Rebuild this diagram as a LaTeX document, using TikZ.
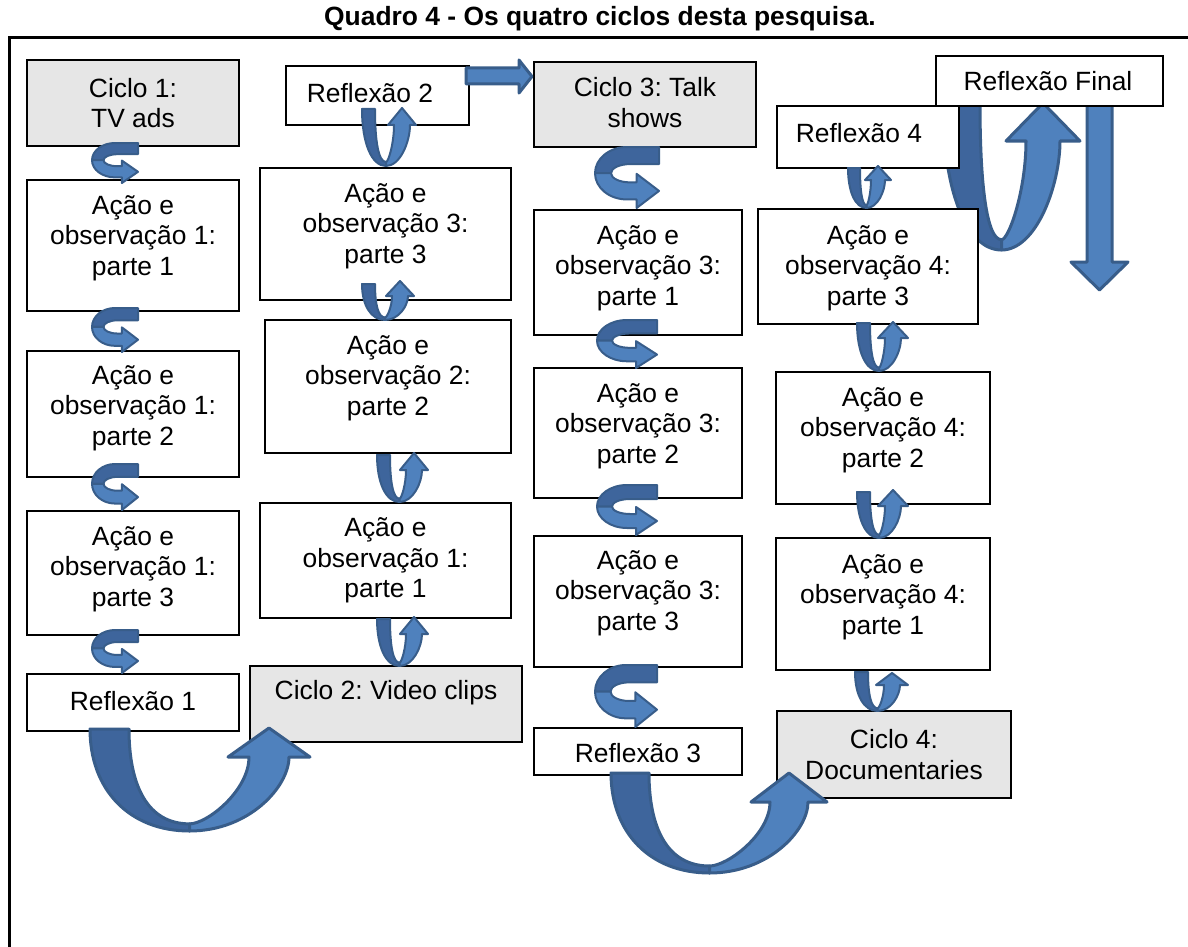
\documentclass[tikz,border=0pt]{standalone}
\usepackage{fontspec}
\setmainfont{Liberation Sans}
\frenchspacing
\definecolor{arlight}{RGB}{79,129,189}
\definecolor{ardark}{RGB}{62,101,156}
\definecolor{arborder}{RGB}{56,93,138}
\definecolor{boxgray}{RGB}{230,230,230}
\def\arlw{1pt}
\tikzset{
 bx/.style={draw=black, line width=1pt, fill=white, inner sep=0pt, anchor=north west},
 gbx/.style={bx, fill=boxgray},
 txt/.style={align=center, inner sep=0pt, font=\fontsize{13.2}{15.25}\selectfont},
 ttl/.style={inner sep=0pt, font=\bfseries\fontsize{13.2}{15.25}\selectfont},
 arl/.style={fill=arlight, draw=arborder, line width=\arlw, line join=round},
 ard/.style={fill=ardark, draw=arborder, line width=\arlw, line join=round},
}
\newcommand{\UArrow}[9]{%
  \pgfmathsetmacro{\uM}{(#1+#5+#9)/2}%
  \pgfmathsetmacro{\uHB}{#6+#7}%
  \pgfmathsetmacro{\uBI}{#4-0.07*(#4-#2)}%
  \pgfmathsetmacro{\uRA}{#5+#9}%
  \pgfmathsetmacro{\uLA}{#5-#9}%
  \draw[ard] (#1,#2) -- ({#1+#3},#2) .. controls ({#1+#3},{#2+0.55*(#4-#2)}) and ({#1+#3+0.3*(\uM-#1-#3)},\uBI) .. (\uM,\uBI) -- (\uM,#4) .. controls ({#1+0.4*(\uM-#1)},#4) and (#1,{#2+0.6*(#4-#2)}) .. (#1,#2) -- cycle;
  \draw[arl] (\uM,#4) .. controls ({\uM+0.6*(\uRA-\uM)},#4) and (\uRA,{\uHB+0.4*(#4-\uHB)}) .. (\uRA,\uHB) -- ({#5+#8},\uHB) -- (#5,#6) -- ({#5-#8},\uHB) -- (\uLA,\uHB) .. controls (\uLA,{\uHB+0.5*(\uBI-\uHB)}) and ({\uM+0.3*(\uLA-\uM)},\uBI) .. (\uM,\uBI) -- cycle;
}
\newcommand{\Curl}[4]{%
 \begin{scope}[shift={(#1,#2)}, xscale=#3, yscale=#4]
  \draw[ard] (1,0) -- (0.5,0) .. controls (0.224,0) and (0,0.1925) .. (0,0.43) -- (0.25,0.43) .. controls (0.25,0.347) and (0.384,0.28) .. (0.55,0.28) -- (1,0.28) -- cycle;
  \draw[arl] (0,0.43) .. controls (0,0.6675) and (0.224,0.86) .. (0.5,0.86) -- (0.65,0.86) -- (0.65,1) -- (1,0.72) -- (0.65,0.44) -- (0.65,0.58) -- (0.55,0.58) .. controls (0.384,0.58) and (0.25,0.513) .. (0.25,0.43) -- cycle;
 \end{scope}}
\begin{document}
\begin{tikzpicture}[x=0.5pt,y=-0.5pt]
\useasboundingbox (0,0) rectangle (1188,947);
\node[ttl] (title) at (600,19) {Quadro 4 - Os quatro ciclos desta pesquisa.};
\draw[line width=1.5pt] (1188,38) -- (9,38) -- (9,947);

% arrow behind boxes
\def\arlw{1.5pt}
\UArrow{943}{103}{37}{250}{1043}{103}{38}{37}{17}
\draw[arl] (1087,103) -- (1112,103) -- (1112,262) -- (1128,262) -- (1099.5,290) -- (1071,262) -- (1087,262) -- cycle;

% column 1
\node[gbx, minimum width=106pt, minimum height=43pt] (cic1) at (26,59) {};
\node[txt] (cic1t) at (cic1.center) {Ciclo 1:\\ TV ads};
\node[bx, minimum width=106pt, minimum height=65.5pt] (a11) at (26,179) {};
\node[txt] (a11t) at ([yshift=3.75pt]a11.center) {Ação e\\observação 1:\\parte 1};
\node[bx, minimum width=106pt, minimum height=63pt] (a12) at (26,350) {};
\node[txt] (a12t) at ([yshift=3pt]a12.center) {Ação e\\observação 1:\\parte 2};
\node[bx, minimum width=106pt, minimum height=62pt] (a13) at (26,510) {};
\node[txt] (a13t) at ([yshift=2pt]a13.center) {Ação e\\observação 1:\\parte 3};
\node[bx, minimum width=106pt, minimum height=28.5pt] (ref1) at (26,673) {};
\node[txt] (ref1t) at ([yshift=0.75pt]ref1.center) {Reflexão 1};

% column 2
\node[bx, minimum width=91.5pt, minimum height=29.5pt] (ref2) at (285,65) {};
\node[txt] (ref2t) at ([xshift=-3.75pt,yshift=1.25pt]ref2.center) {Reflexão 2};
\node[bx, minimum width=125.5pt, minimum height=66pt] (b33) at (259,167) {};
\node[txt] (b33t) at ([yshift=4pt]b33.center) {Ação e\\observação 3:\\parte 3};
\node[bx, minimum width=123pt, minimum height=66.5pt] (b22) at (264,319) {};
\node[txt] (b22t) at ([yshift=4.25pt]b22.center) {Ação e\\observação 2:\\parte 2};
\node[bx, minimum width=125.5pt, minimum height=57.5pt] (b11) at (259,502) {};
\node[txt] (b11t) at (b11.center) {Ação e\\observação 1:\\parte 1};
\node[gbx, minimum width=136pt, minimum height=38pt] (cic2) at (249,665) {};
\node[txt] (cic2t) at ([yshift=5.5pt]cic2.center) {Ciclo 2: Video clips};

% column 3
\node[gbx, minimum width=111pt, minimum height=42.5pt] (cic3) at (533,61) {};
\node[txt] (cic3t) at ([yshift=1pt]cic3.center) {Ciclo 3: Talk\\shows};
\node[bx, minimum width=104pt, minimum height=62.5pt] (c31) at (533,209) {};
\node[txt] (c31t) at ([yshift=2.25pt]c31.center) {Ação e\\observação 3:\\parte 1};
\node[bx, minimum width=104pt, minimum height=65pt] (c32) at (533,367) {};
\node[txt] (c32t) at ([yshift=3.5pt]c32.center) {Ação e\\observação 3:\\parte 2};
\node[bx, minimum width=104pt, minimum height=65.5pt] (c33) at (533,535) {};
\node[txt] (c33t) at ([yshift=4.25pt]c33.center) {Ação e\\observação 3:\\parte 3};
\node[bx, minimum width=104pt, minimum height=23.5pt] (ref3) at (533,727) {};
\node[txt] (ref3t) at ([yshift=-0.75pt]ref3.center) {Reflexão 3};

% column 4
\node[bx, minimum width=113.5pt, minimum height=25pt] (reff) at (935,55) {};
\node[txt] (refft) at ([xshift=-0.75pt]reff.center) {Reflexão Final};
\node[bx, minimum width=91pt, minimum height=31pt] (ref4) at (776,105) {};
\node[txt] (ref4t) at ([xshift=-4.5pt,yshift=2pt]ref4.center) {Reflexão 4};
\node[bx, minimum width=110pt, minimum height=57.5pt] (d43) at (757,208) {};
\node[txt] (d43t) at ([yshift=-0.75pt]d43.center) {Ação e\\observação 4:\\parte 3};
\node[bx, minimum width=107pt, minimum height=66pt] (d42) at (775,371) {};
\node[txt] (d42t) at ([yshift=4pt]d42.center) {Ação e\\observação 4:\\parte 2};
\node[bx, minimum width=107pt, minimum height=66pt] (d41) at (775,537) {};
\node[txt] (d41t) at ([yshift=3.5pt]d41.center) {Ação e\\observação 4:\\parte 1};
\node[gbx, minimum width=117pt, minimum height=43.5pt] (cic4) at (776,710) {};
\node[txt] (cic4t) at (cic4.center) {Ciclo 4:\\Documentaries};

% arrows on top
\def\arlw{1.5pt}
\UArrow{90}{729}{39}{831}{269}{728}{29}{41}{20}
\UArrow{611}{773}{38}{873}{789}{773}{29}{38}{19}
\draw[arl] (466,68) -- (519,68) -- (519,60) -- (532,76.5) -- (519,93) -- (519,84) -- (466,84) -- cycle;

\def\arlw{1pt}
% column 1 curls
\Curl{92}{143}{46}{40}
\Curl{92}{308}{46}{44}
\Curl{92}{464}{46}{46}
\Curl{92}{630}{46}{43}
% column 3 curls
\Curl{595}{147}{64}{61}
\Curl{597}{320}{60}{48}
\Curl{597}{485}{60}{50}
\Curl{595}{665}{62}{62}
% column 2 small U arrows
\UArrow{362}{109}{13}{166}{402}{108}{17}{14}{8}
\UArrow{362}{284}{13}{320}{400}{281}{15}{14}{8}
\UArrow{377}{455}{13}{502}{414}{453}{17}{14}{8}
\UArrow{377}{619}{13}{666}{414}{617}{17}{14}{8}
% column 4 small U arrows
\UArrow{848}{168}{12}{208}{878}{166}{14}{13}{7}
\UArrow{857}{323}{13}{371}{893}{322}{16}{15}{8}
\UArrow{857}{492}{13}{538}{893}{490}{16}{15}{8}
\UArrow{855}{672}{13}{711}{892}{673}{12}{16}{8}
\end{tikzpicture}
\end{document}
